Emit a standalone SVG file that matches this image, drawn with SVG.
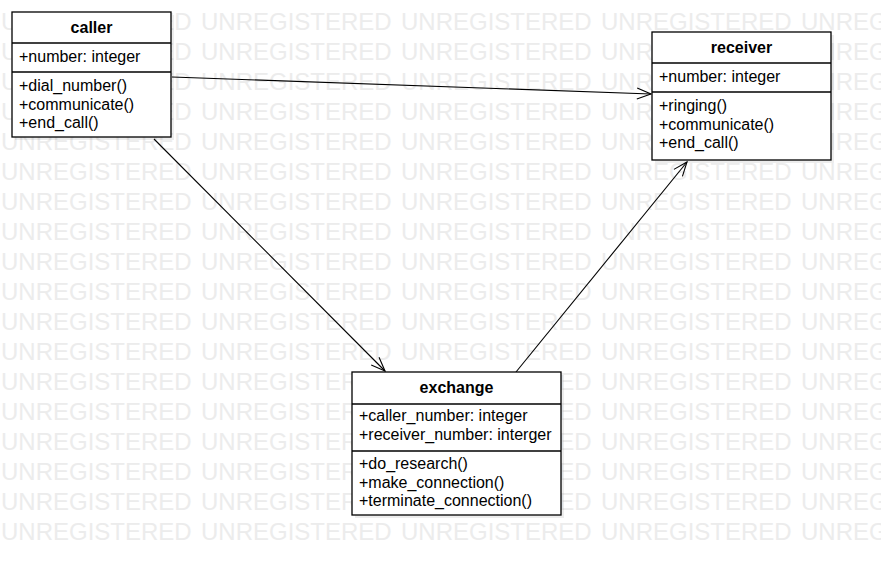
<svg xmlns="http://www.w3.org/2000/svg" xmlns:xlink="http://www.w3.org/1999/xlink" width="881" height="566" viewBox="0 0 881 566">
<style>
.wm{font-family:"Liberation Sans",Arial,sans-serif;font-size:24px;fill:#ececec}
.box{fill:#fff;stroke:#000;stroke-width:1.3}
.sh{fill:#000;fill-opacity:0.07}
.sep{stroke:#000;stroke-width:1.3}
.t{font-family:"Liberation Sans",Arial,sans-serif;font-size:16px;fill:#000}
.b{font-weight:bold;text-anchor:middle}
.edge{fill:none;stroke:#000;stroke-width:1.1}
</style>
<defs>
<g id="wmrow">
<text class="wm" x="1">UNREGISTERED</text>
<text class="wm" x="201">UNREGISTERED</text>
<text class="wm" x="401">UNREGISTERED</text>
<text class="wm" x="601">UNREGISTERED</text>
<text class="wm" x="801">UNREGISTERED</text>
</g>
<marker id="arr" markerUnits="userSpaceOnUse" markerWidth="18" markerHeight="16" refX="15" refY="7" orient="auto" overflow="visible">
<path d="M1,1.5 L15,7 L1,12.5" fill="none" stroke="#000" stroke-width="1.1"/>
</marker>
</defs>
<rect width="881" height="566" fill="#fff"/>
<g id="watermark">
<use xlink:href="#wmrow" y="30"/>
<use xlink:href="#wmrow" y="60"/>
<use xlink:href="#wmrow" y="90"/>
<use xlink:href="#wmrow" y="120"/>
<use xlink:href="#wmrow" y="150"/>
<use xlink:href="#wmrow" y="180"/>
<use xlink:href="#wmrow" y="210"/>
<use xlink:href="#wmrow" y="240"/>
<use xlink:href="#wmrow" y="270"/>
<use xlink:href="#wmrow" y="300"/>
<use xlink:href="#wmrow" y="330"/>
<use xlink:href="#wmrow" y="360"/>
<use xlink:href="#wmrow" y="390"/>
<use xlink:href="#wmrow" y="420"/>
<use xlink:href="#wmrow" y="450"/>
<use xlink:href="#wmrow" y="480"/>
<use xlink:href="#wmrow" y="510"/>
<use xlink:href="#wmrow" y="540"/>
</g>
<g id="connectors">
<path class="edge" d="M172,77 L651,94" marker-end="url(#arr)"/>
<path class="edge" d="M154,139 L385,371" marker-end="url(#arr)"/>
<path class="edge" d="M516,372 L687,162" marker-end="url(#arr)"/>
</g>
<g id="caller">
<rect class="sh" x="15" y="15" width="159" height="125"/>
<rect class="box" x="12" y="12" width="159" height="125"/>
<line class="sep" x1="12" y1="43" x2="171" y2="43"/>
<line class="sep" x1="12" y1="72" x2="171" y2="72"/>
<text class="t b" x="91.5" y="33">caller</text>
<text class="t" x="19" y="62">+number: integer</text>
<text class="t" x="19" y="91">+dial_number()</text>
<text class="t" x="19" y="110">+communicate()</text>
<text class="t" x="19" y="128">+end_call()</text>
</g>
<g id="receiver">
<rect class="sh" x="655" y="35" width="179" height="128"/>
<rect class="box" x="652" y="32" width="179" height="128"/>
<line class="sep" x1="652" y1="63" x2="831" y2="63"/>
<line class="sep" x1="652" y1="92" x2="831" y2="92"/>
<text class="t b" x="741.5" y="53">receiver</text>
<text class="t" x="659" y="82">+number: integer</text>
<text class="t" x="659" y="111">+ringing()</text>
<text class="t" x="659" y="130">+communicate()</text>
<text class="t" x="659" y="148">+end_call()</text>
</g>
<g id="exchange">
<rect class="sh" x="355" y="375" width="209" height="143"/>
<rect class="box" x="352" y="372" width="209" height="143"/>
<line class="sep" x1="352" y1="404" x2="561" y2="404"/>
<line class="sep" x1="352" y1="451" x2="561" y2="451"/>
<text class="t b" x="456.5" y="393">exchange</text>
<text class="t" x="359" y="421">+caller_number: integer</text>
<text class="t" x="359" y="440">+receiver_number: interger</text>
<text class="t" x="359" y="469">+do_research()</text>
<text class="t" x="359" y="488">+make_connection()</text>
<text class="t" x="359" y="506">+terminate_connection()</text>
</g>
</svg>
